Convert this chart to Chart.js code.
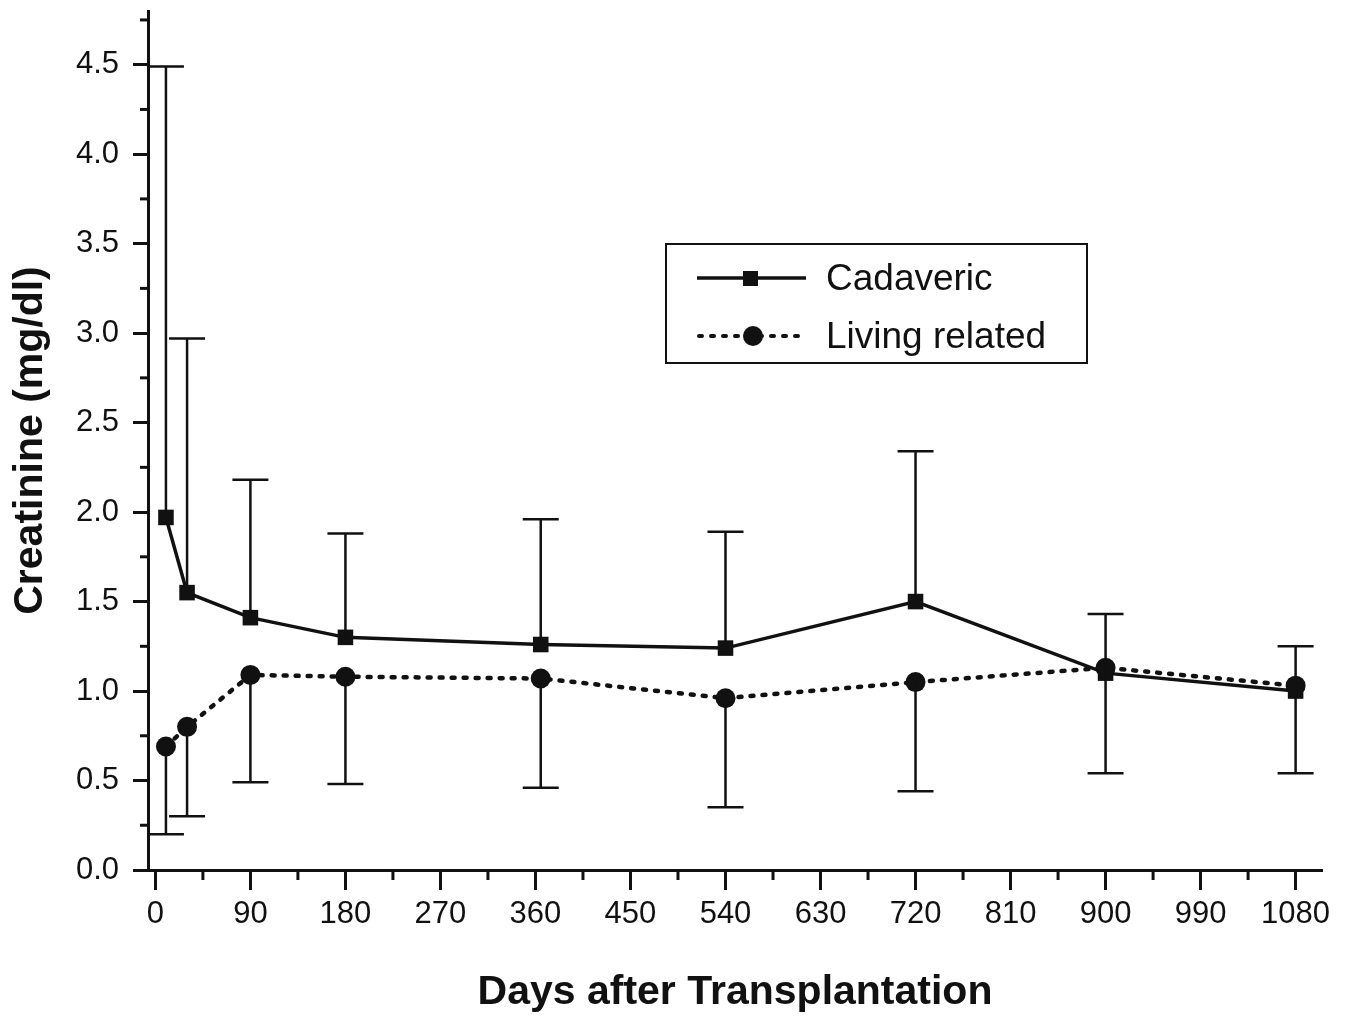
<!DOCTYPE html>
<html>
<head>
<meta charset="utf-8">
<script src="https://cdn.jsdelivr.net/npm/chart.js@4/dist/chart.umd.min.js"></script>
<style>
  html, body { margin: 0; padding: 0; background: #fff; }
  #wrap { width: 1358px; height: 1021px; }
</style>
</head>
<body>
<div id="wrap"><canvas id="myChart"></canvas></div>
<script>
// days after transplantation
var days = [10, 30, 90, 180, 365, 540, 720, 900, 1080];

var cadaveric = [1.97, 1.55, 1.41, 1.30, 1.26, 1.24, 1.50, 1.10, 1.00];
var cadavericUpper = [4.49, 2.97, 2.18, 1.88, 1.96, 1.89, 2.34, 1.43, 1.25];

var living = [0.69, 0.80, 1.09, 1.08, 1.07, 0.96, 1.05, 1.13, 1.03];
var livingLower = [0.20, 0.30, 0.49, 0.48, 0.46, 0.35, 0.44, 0.54, 0.54];

var xTicks = [0, 90, 180, 270, 360, 450, 540, 630, 720, 810, 900, 990, 1080];
var xMinor = [45, 135, 225, 315, 405, 495, 585, 675, 765, 855, 945, 1035];
var yTicks = [0, 0.5, 1.0, 1.5, 2.0, 2.5, 3.0, 3.5, 4.0, 4.5];
var yMinor = [0.25, 0.75, 1.25, 1.75, 2.25, 2.75, 3.25, 3.75, 4.25, 4.75];

var seriesNames = ["Cadaveric", "Living related"];

var FONT = "'Liberation Sans', Arial, sans-serif";

function pts(ys) {
    return days.map(function (d, i) { return { x: d, y: ys[i] }; });
}

// error bars: cadaveric upward, living related downward
var errorBars = {
    id: "errorBars",
    afterDatasetsDraw: function (chart) {
        var ctx = chart.ctx, xs = chart.scales.x, ys = chart.scales.y;
        ctx.save();
        ctx.strokeStyle = "#111";
        ctx.lineWidth = 2.5;
        var bars = [[cadaveric, cadavericUpper], [living, livingLower]];
        bars.forEach(function (b) {
            days.forEach(function (d, i) {
                var px = xs.getPixelForValue(d);
                var y0 = ys.getPixelForValue(b[0][i]);
                var y1 = ys.getPixelForValue(b[1][i]);
                ctx.beginPath();
                ctx.moveTo(px, y0);
                ctx.lineTo(px, y1);
                ctx.moveTo(px - 18, y1);
                ctx.lineTo(px + 18, y1);
                ctx.stroke();
            });
        });
        ctx.restore();
    }
};

// short minor ticks on both axes
var minorTicks = {
    id: "minorTicks",
    afterDraw: function (chart) {
        var ctx = chart.ctx, xs = chart.scales.x, ys = chart.scales.y, a = chart.chartArea;
        ctx.save();
        ctx.strokeStyle = "#111";
        ctx.lineWidth = 3;
        xMinor.forEach(function (v) {
            var px = xs.getPixelForValue(v);
            ctx.beginPath();
            ctx.moveTo(px, a.bottom);
            ctx.lineTo(px, a.bottom + 10);
            ctx.stroke();
        });
        yMinor.forEach(function (v) {
            var py = ys.getPixelForValue(v);
            ctx.beginPath();
            ctx.moveTo(a.left, py);
            ctx.lineTo(a.left - 8, py);
            ctx.stroke();
        });
        ctx.restore();
    }
};

// boxed legend inside the plot
var boxLegend = {
    id: "boxLegend",
    afterDraw: function (chart) {
        var ctx = chart.ctx;
        ctx.save();
        ctx.strokeStyle = "#111";
        ctx.lineWidth = 2;
        ctx.strokeRect(666, 244, 421, 119);
        ctx.fillStyle = "#111";
        ctx.font = "37px " + FONT;
        ctx.textBaseline = "middle";

        // Cadaveric
        ctx.lineWidth = 3.5;
        ctx.beginPath();
        ctx.moveTo(697, 278);
        ctx.lineTo(806, 278);
        ctx.stroke();
        ctx.fillRect(743, 271, 15, 15);
        ctx.fillText(seriesNames[0], 826, 280);

        // Living related
        ctx.lineWidth = 4;
        ctx.lineCap = "round";
        ctx.setLineDash([3, 9]);
        ctx.beginPath();
        ctx.moveTo(699, 336);
        ctx.lineTo(806, 336);
        ctx.stroke();
        ctx.setLineDash([]);
        ctx.beginPath();
        ctx.arc(753, 336, 10, 0, Math.PI * 2);
        ctx.fill();
        ctx.fillText(seriesNames[1], 826, 338);
        ctx.restore();
    }
};

new Chart("myChart", {
    type: "line",
    data: {
        datasets: [{
            label: seriesNames[0],
            data: pts(cadaveric),
            borderColor: "#111",
            backgroundColor: "#111",
            borderWidth: 3.5,
            pointStyle: "rect",
            pointRadius: 11,
            pointBorderWidth: 0
        }, {
            label: seriesNames[1],
            data: pts(living),
            borderColor: "#111",
            backgroundColor: "#111",
            borderWidth: 4.5,
            borderDash: [3, 9],
            borderCapStyle: "round",
            pointStyle: "circle",
            pointRadius: 10,
            pointBorderWidth: 0
        }]
    },
    options: {
        responsive: true,
        maintainAspectRatio: false,
        animation: false,
        layout: { padding: { top: 11, right: 36, left: 0, bottom: 0 } },
        plugins: {
            legend: { display: false },
            tooltip: { enabled: false }
        },
        scales: {
            x: {
                type: "linear",
                min: -7,
                max: 1105,
                afterBuildTicks: function (s) { s.ticks = xTicks.map(function (v) { return { value: v }; }); },
                afterFit: function (s) { s.height = 151; s.paddingLeft = 0; s.paddingRight = 0; },
                border: { display: true, color: "#111", width: 3 },
                grid: { drawOnChartArea: false, drawTicks: true, tickLength: 20, tickWidth: 3, tickColor: "#111" },
                ticks: {
                    color: "#111",
                    font: { family: FONT, size: 31 },
                    padding: 6,
                    maxRotation: 0,
                    autoSkip: false,
                    callback: function (v) { return String(v); }
                },
                title: {
                    display: true,
                    text: "Days after Transplantation",
                    color: "#111",
                    font: { family: FONT, size: 41, weight: "bold" },
                    padding: { top: 4, bottom: 4 }
                }
            },
            y: {
                min: 0,
                max: 4.8,
                afterBuildTicks: function (s) { s.ticks = yTicks.map(function (v) { return { value: v }; }); },
                afterFit: function (s) { s.width = 148; s.paddingTop = 0; s.paddingBottom = 0; },
                border: { display: true, color: "#111", width: 3 },
                grid: { drawOnChartArea: false, drawTicks: true, tickLength: 15, tickWidth: 3, tickColor: "#111" },
                ticks: {
                    color: "#111",
                    font: { family: FONT, size: 31 },
                    padding: 14,
                    autoSkip: false,
                    callback: function (v) { return Number(v).toFixed(1); }
                },
                title: {
                    display: true,
                    text: "Creatinine (mg/dl)",
                    color: "#111",
                    font: { family: FONT, size: 41, weight: "bold" },
                    padding: { top: 6, bottom: 6 }
                }
            }
        }
    },
    plugins: [errorBars, minorTicks, boxLegend]
});
</script>
</body>
</html>
